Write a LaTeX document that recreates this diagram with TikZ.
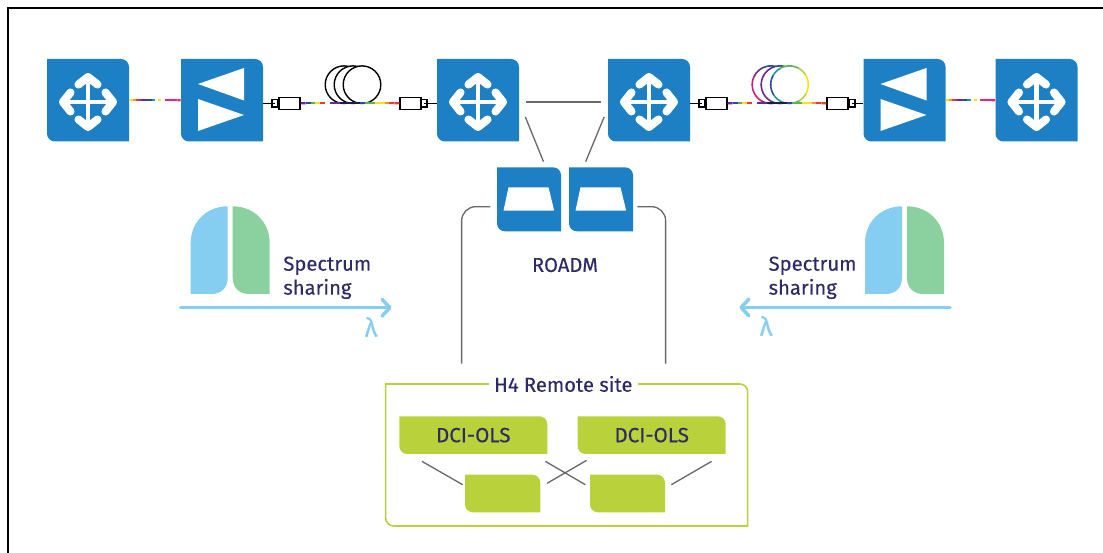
\documentclass[tikz,border=0pt]{standalone}
\usepackage{xcolor}
\usepackage{fontspec}
\setmainfont[FakeBold=0.25]{Fira Sans}
\usetikzlibrary{arrows.meta, calc}
\definecolor{tileblue}{RGB}{29, 127, 196}
\definecolor{olsgreen}{RGB}{185, 209, 59}
\definecolor{inkblue}{RGB}{46, 42, 102}
\definecolor{linkgray}{RGB}{105, 105, 105}
\definecolor{lobeblue}{RGB}{133, 206, 242}
\definecolor{lobegreen}{RGB}{139, 209, 160}
\definecolor{specyel}{RGB}{250, 225, 30}
\definecolor{specorg}{RGB}{245, 150, 30}
\definecolor{specred}{RGB}{235, 60, 50}
\definecolor{specmag}{RGB}{200, 30, 130}
\definecolor{specpur}{RGB}{110, 40, 140}
\definecolor{specblu}{RGB}{50, 70, 160}
\definecolor{spectea}{RGB}{30, 150, 160}
\definecolor{specgrn}{RGB}{90, 180, 80}
\definecolor{speclim}{RGB}{180, 210, 60}
\definecolor{specpin}{RGB}{235, 30, 140}
\definecolor{specdrk}{RGB}{30, 30, 70}

% tile with two sharp and two rounded corners
\newcommand{\tile}[7]{
    \path[#6] (#2,#3) [rounded corners=4.5pt] -- (#4,#3) [sharp corners] -- (#4,#5) [rounded corners=4.5pt] -- (#2,#5) [sharp corners] -- cycle;
    \node[tilenode, minimum width={(#4-#2)*0.02cm}, minimum height={(#5-#3)*0.02cm}] (#1) at ({(#2+#4)/2},{(#3+#5)/2}) {#7};
}
\newcommand{\routericon}[1]{
    \foreach \ang in {0,90,180,270} {
        \begin{scope}[shift={([yshift=-1pt]#1.center)}, rotate=\ang]
            \draw[white, line width=2.4pt] (0,0) -- (26,0);
            \draw[white, line width=4.6pt, line cap=round, line join=round] (17.5,-9.5) -- (25,0) -- (17.5,9.5);
        \end{scope}
    }
}
\newcommand{\ampicon}[1]{
    \fill[white] ([shift={(22,-32.25)}]#1.center) -- ([shift={(22,0.25)}]#1.center) -- ([shift={(-24,-16.25)}]#1.center) -- cycle;
    \fill[white] ([shift={(-24,-1.25)}]#1.center) -- ([shift={(-24,30.75)}]#1.center) -- ([shift={(22,14.75)}]#1.center) -- cycle;
}
\newcommand{\trapicon}[1]{
    \fill[white] ([shift={(-20.5,-12)}]#1.center) -- ([shift={(19.5,-12)}]#1.center) -- ([shift={(25.2,11.4)}]#1.center) -- ([shift={(-25.5,11.4)}]#1.center) -- cycle;
}
\newcommand{\specline}[4]{
    \foreach \col [count=\i] in {#4} {
        \draw[\col, line width=1.2pt] ($(#1)!{(\i-1)/#3}!(#2)$) -- ($(#1)!{\i/#3}!(#2)$);
    }
}
\newcommand{\ringseg}[3]{
    \foreach \col [count=\i] in {#3} {
        \draw[\col, line width=0.9pt, line cap=round] plot[domain={(\i-1)*30}:{\i*30}, samples=5] ({#1+18.8*cos(\x)},{#2+18.8*sin(\x)});
    }
}
\newcommand{\lobes}[1]{
    \fill[lobeblue] (#1,294) -- (#1,243) .. controls ({#1},222) and ({#1+16},206.3) .. ({#1+37},206.3) -- ({#1+37},278) .. controls ({#1+37},288) and ({#1+30},294) .. ({#1+21},294) -- cycle;
    \fill[lobegreen] ({#1+79},294) -- ({#1+79},243) .. controls ({#1+79},222) and ({#1+63},206.3) .. ({#1+42},206.3) -- ({#1+42},278) .. controls ({#1+42},288) and ({#1+49},294) .. ({#1+58},294) -- cycle;
}

\begin{document}
\begin{tikzpicture}[x=0.02cm, y=-0.02cm,
    tilenode/.style={inner sep=0pt, font=\fontsize{11.7}{12}\selectfont, text=inkblue},
    bluefill/.style={fill=tileblue},
    olsfill/.style={fill=olsgreen},
    siteline/.style={draw=olsgreen, line width=0.9pt},
    link/.style={draw=linkgray, line width=0.75pt},
    plug/.style={rectangle, draw=black, fill=white, line width=0.8pt, inner sep=0pt, minimum width=0.42cm, minimum height=0.24cm},
    ferrule/.style={rectangle, draw=black, fill=white, line width=0.7pt, inner sep=0pt, minimum width=0.12cm, minimum height=0.15cm},
    stub/.style={draw=black, line width=0.8pt},
    coil/.style={circle, draw=black, fill=white, line width=0.8pt, inner sep=0pt, minimum size=0.752cm},
    plaincoil/.style={circle, fill=white, inner sep=0pt, minimum size=0.752cm},
    label/.style={text=inkblue, inner sep=0pt, font=\fontsize{11.5}{12}\selectfont},
    lambda/.style={text=lobeblue, font=\fontsize{15}{16}\selectfont},
    sweep/.style={draw=lobeblue, line width=2pt, line cap=round, -{Straight Barb[length=4.5pt, width=9.5pt, line width=2pt, round]}}]

    \useasboundingbox (0,0) rectangle (1103,553);
    \draw[black, line width=1.2pt] (8,553) -- (8,8) -- (1103,8);

    % top row
    \tile{routerA}{47}{59}{129}{141.5}{bluefill}{}
    \tile{ampA}{181}{59}{263}{141.5}{bluefill}{}
    \tile{routerC}{437}{59}{519}{141.5}{bluefill}{}
    \tile{routerD}{608}{59}{690}{141.5}{bluefill}{}
    \tile{ampB}{863.5}{59}{945.5}{141.5}{bluefill}{}
    \tile{routerF}{995.5}{59}{1077.5}{141.5}{bluefill}{}
    \routericon{routerA}
    \routericon{routerC}
    \routericon{routerD}
    \routericon{routerF}
    \ampicon{ampA}
    \ampicon{ampB}

    % fibre spans
    \node[coil] (coilA) at (344,84.7) {};
    \node[coil] (coilB) at (353,84.7) {};
    \node[coil] (coilC) at (362,84.7) {};
    \node[plaincoil] (coilD) at (771,84.7) {};
    \ringseg{771}{84.7}{specpur,specpur,specpur,specpur,specmag,specmag,specmag,specpur,specblu,specblu,specblu,specblu}
    \node[plaincoil] (coilE) at (780,84.7) {};
    \ringseg{780}{84.7}{specblu,specblu,specblu,specblu,specpur,specpur,specpur,specpur,specblu,specblu,specblu,specblu}
    \node[plaincoil] (coilF) at (789.5,84.7) {};
    \ringseg{789.5}{84.7}{specyel,speclim,specgrn,spectea,spectea,specblu,specblu,spectea,specgrn,specgrn,speclim,specyel}

    \node[plug] (plugA) at (289.5,103.3) {};
    \node[ferrule] (ferA) at (275,103.3) {};
    \node[plug] (plugB) at (410.5,103.3) {};
    \node[ferrule] (ferB) at (424,103.3) {};
    \node[plug] (plugC) at (716.5,103.3) {};
    \node[ferrule] (ferC) at (702,103.3) {};
    \node[plug] (plugD) at (837.5,103.3) {};
    \node[ferrule] (ferD) at (852,103.3) {};
    \draw[stub] (ferA.center -| ampA.east) -- (ferA.center);
    \draw[stub] (ferB.center) -- (ferB.center -| routerC.west);
    \draw[stub] (ferC.center -| routerD.east) -- (ferC.center);
    \draw[stub] (ferD.center) -- (ferD.center -| ampB.west);

    \specline{plugA.east}{plugB.west}{20}{specpur,specblu,specgrn,specyel,specred,white,specpur,specpur,specdrk,specdrk,specdrk,specdrk,specblu,specgrn,specgrn,specyel,specyel,specorg,specred,specred}
    \specline{plugC.east}{plugD.west}{20}{specpur,specblu,specgrn,specyel,specred,white,specpur,specpur,specdrk,specdrk,specdrk,specdrk,specblu,specgrn,specgrn,specyel,specyel,specorg,specred,specred}
    \specline{routerA.east}{ampA.west}{16}{specyel,specorg,specred,specmag,specpur,specblu,specblu,spectea,white,specyel,white,specpin,specpin,specpin,specpin,specpin}
    \specline{ampB.east}{routerF.west}{16}{specyel,specorg,specred,specmag,specpur,specblu,specblu,spectea,white,specyel,white,specpin,specpin,specpin,specpin,specpin}

    % ROADM
    \tile{roadmA}{497}{167.3}{561}{231.3}{bluefill}{}
    \tile{roadmB}{569}{167.3}{633}{231.3}{bluefill}{}
    \trapicon{roadmA}
    \trapicon{roadmB}
    \node[label] (roadmlabel) at (565,265) {ROADM};

    \draw[link] ([shift={(7,1.75)}]routerC.east) -- ([shift={(-7,1.75)}]routerD.west);
    \draw[link] ([shift={(6,16.75)}]routerC.east) -- ([shift={(14.5,-5.3)}]roadmA.north);
    \draw[link] ([shift={(-3.5,16.75)}]routerD.west) -- ([shift={(-15.3,-5.3)}]roadmB.north);

    % remote site
    \tile{remote}{385.7}{384}{747.7}{526}{siteline}{}
    \node[label, fill=white, minimum width=2.97cm, minimum height=0.5cm] (remotelabel) at (563.3,384) {H4 Remote site};
    \tile{dciA}{399.3}{416.3}{547.3}{454}{olsfill}{DCI-OLS}
    \tile{dciB}{577.7}{416.3}{725.7}{454}{olsfill}{DCI-OLS}
    \tile{addA}{465}{474.7}{540.3}{512.3}{olsfill}{}
    \tile{addB}{590}{474.7}{665}{512.3}{olsfill}{}

    \draw[link, rounded corners=8pt] ([shift={(-6.3,7.4)}]roadmA.west) -| ([shift={(76.3,-20)}]remote.north west);
    \draw[link, rounded corners=8pt] ([shift={(4,7.4)}]roadmB.east) -| ([shift={(-82.4,-20)}]remote.north east);

    \draw[link] ([shift={(23,7)}]dciA.south west) -- ([shift={(-2,-8.8)}]addA.west);
    \draw[link] ([shift={(-2.3,7)}]dciA.south east) -- ([shift={(-4.3,-8.8)}]addB.west);
    \draw[link] ([shift={(9.3,6)}]dciB.south west) -- ([shift={(6.4,-10.2)}]addA.east);
    \draw[link] ([shift={(-14.4,7)}]dciB.south east) -- ([shift={(6,-8.8)}]addB.east);

    % spectrum sharing
    \lobes{190.7}
    \lobes{865}
    \node[label, anchor=base west] (sharetextA) at (283,270.7) {Spectrum};
    \node[label, anchor=base west] (sharetextB) at (283,294.7) {sharing};
    \node[label, anchor=base west] (sharetextC) at (768.3,270.7) {Spectrum};
    \node[label, anchor=base west] (sharetextD) at (768.3,294.7) {sharing};
    \coordinate (sweepA) at (180.7,307.7);
    \coordinate (sweepB) at (391.7,307.7);
    \coordinate (sweepC) at (950,307.5);
    \coordinate (sweepD) at (739.3,307.5);
    \draw[sweep] (sweepA) -- (sweepB);
    \draw[sweep] (sweepC) -- (sweepD);
    \node[lambda] (lambdaA) at (371,327) {λ};
    \node[lambda] (lambdaB) at (766,326) {λ};
\end{tikzpicture}
\end{document}
